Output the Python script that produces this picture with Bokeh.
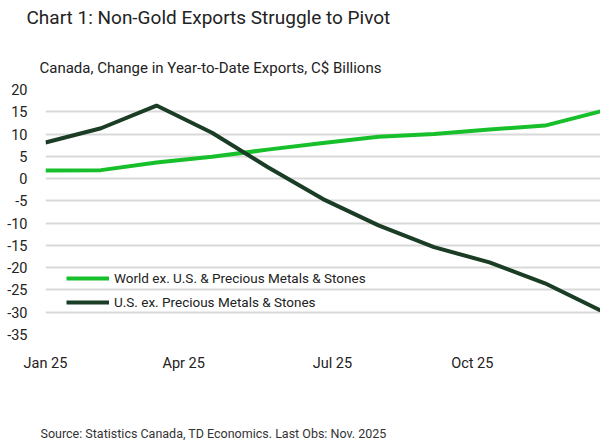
from bokeh.plotting import figure
from bokeh.models import (ColumnDataSource, Legend, LegendItem, Title,
                          FixedTicker, Range1d)
from bokeh.embed import file_html
from bokeh.resources import INLINE

# Monthly observations, Jan 2025 .. Nov 2025 (index 0..10)
months = list(range(11))
world_ex_us = [1.8, 1.9, 3.6, 4.9, 6.5, 8.0, 9.4, 10.0, 11.0, 11.9, 15.1]
us_ex_precious = [8.1, 11.3, 16.4, 10.3, 2.6, -4.6, -10.5, -15.4, -18.8, -23.5, -29.6]

x_tick_locs = [0, 2.49, 5.17, 7.69]
x_tick_labels = ["Jan 25", "Apr 25", "Jul 25", "Oct 25"]
y_ticks = [20, 15, 10, 5, 0, -5, -10, -15, -20, -25, -30, -35]

FONT = "Roboto"
GREEN = "#17c02b"
DARK = "#1b3d25"
TEXT = "#222222"

src = ColumnDataSource(dict(m=months, world=world_ex_us, us=us_ex_precious))

p = figure(width=600, height=448, output_backend="svg", toolbar_location=None,
           x_range=Range1d(0, 10), y_range=Range1d(-35, 20),
           min_border_left=45, min_border_right=0,
           min_border_top=89, min_border_bottom=114,
           outline_line_color=None)
p.background_fill_color = "white"
p.border_fill_color = "white"

# axes
p.xaxis.ticker = FixedTicker(ticks=x_tick_locs)
p.xaxis.major_label_overrides = {loc: lab for loc, lab in zip(x_tick_locs, x_tick_labels)}
p.yaxis.ticker = FixedTicker(ticks=y_ticks)
p.yaxis.major_label_overrides = {v: str(v) for v in y_ticks}
for ax in (p.xaxis[0], p.yaxis[0]):
    ax.axis_line_color = None
    ax.major_tick_line_color = None
    ax.minor_tick_line_color = None
    ax.major_label_text_font = FONT
    ax.major_label_text_font_size = "14.5px"
    ax.major_label_text_color = TEXT
p.yaxis.major_label_standoff = 12
p.xaxis.major_label_standoff = 14

p.xgrid.grid_line_color = None
p.ygrid.grid_line_color = "#d9d9d9"
p.ygrid.grid_line_width = 2

r_world = p.line("m", "world", source=src, line_color=GREEN, line_width=4)
r_us = p.line("m", "us", source=src, line_color=DARK, line_width=4)

legend = Legend(items=[
    LegendItem(label="World ex. U.S. & Precious Metals & Stones", renderers=[r_world]),
    LegendItem(label="U.S. ex. Precious Metals & Stones", renderers=[r_us]),
], location=(21, 22), orientation="vertical",
    glyph_width=43, glyph_height=20, label_standoff=5, spacing=4,
    padding=0, margin=0,
    label_text_font=FONT, label_text_font_size="13.5px", label_text_color=TEXT,
    background_fill_alpha=0, border_line_color=None)
p.add_layout(legend, "center")


def heading(text, size, standoff, offset=0, color=TEXT):
    return Title(text=text, text_font=FONT, text_font_size=size,
                 text_color=color, text_font_style="normal",
                 align="left", offset=offset, standoff=standoff)


# headings, stacked outward from the plot frame
p.add_layout(heading("Canada, Change in Year-to-Date Exports, C$ Billions",
                     "15px", 25, offset=-6), "above")
p.add_layout(heading(" ", "10px", 0), "above")
p.add_layout(heading("Chart 1: Non-Gold Exports Struggle to Pivot",
                     "19px", 6, offset=-19), "above")

# source note below the date axis
p.add_layout(heading(" ", "10px", 34), "below")
p.add_layout(heading("Source: Statistics Canada, TD Economics. Last Obs: Nov. 2025",
                     "12.5px", 4, offset=-5, color="#333333"), "below")

open("out.html", "w").write(file_html(p, INLINE))
